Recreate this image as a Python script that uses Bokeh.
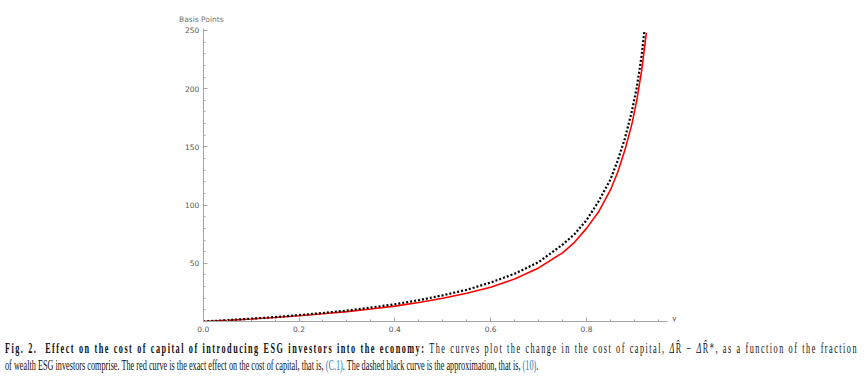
from bokeh.plotting import figure
from bokeh.models import FixedTicker, Label, Div, Range1d, NumeralTickFormatter
from bokeh.layouts import column
from bokeh.embed import file_html
from bokeh.resources import INLINE

# --- data ---
gamma_exact = [0.0, 0.05, 0.10, 0.15, 0.20, 0.25, 0.30, 0.35, 0.40, 0.45, 0.50, 0.55,
               0.60, 0.65, 0.70, 0.75, 0.775, 0.80, 0.825, 0.85, 0.865, 0.88, 0.895,
               0.905, 0.915, 0.925]
bp_exact = [0.0, 1.0, 2.2, 3.5, 5.0, 6.6, 8.5, 10.7, 13.2, 16.3, 20.0, 24.3,
            29.5, 36.5, 46.0, 59.0, 68.0, 80.0, 94.0, 113.0, 128.0, 147.0, 170.0,
            190.0, 215.0, 248.0]

gamma_approx = [0.0, 0.05, 0.10, 0.15, 0.20, 0.25, 0.30, 0.35, 0.40, 0.45, 0.50, 0.55,
                0.60, 0.65, 0.70, 0.75, 0.775, 0.80, 0.825, 0.85, 0.865, 0.88, 0.895,
                0.905, 0.915, 0.921]
bp_approx = [0.0, 1.1, 2.4, 3.8, 5.5, 7.3, 9.4, 12.0, 14.8, 18.3, 22.5, 27.2,
             33.5, 41.0, 51.0, 66.0, 75.0, 87.0, 103.0, 122.0, 138.0, 157.0, 181.0,
             201.0, 228.0, 250.0]

x_major = [0.0, 0.2, 0.4, 0.6, 0.8]
x_minor = [0.05, 0.1, 0.15, 0.25, 0.3, 0.35, 0.45, 0.5, 0.55, 0.65, 0.7, 0.75, 0.85, 0.9, 0.95]
y_major = [50, 100, 150, 200, 250]
y_minor = [10, 20, 30, 40, 60, 70, 80, 90, 110, 120, 130, 140, 160, 170, 180, 190,
           210, 220, 230, 240]

y_title = "Basis Points"
x_title = "γ"

AXIS = "#a6a6a6"
LAB = "#555555"

p = figure(width=865, height=338, output_backend="svg", toolbar_location=None,
           x_range=Range1d(-0.062, 0.99), y_range=Range1d(0, 263.7),
           min_border_left=173, min_border_right=188, min_border_top=14,
           min_border_bottom=17)
p.outline_line_color = None
p.xgrid.visible = False
p.ygrid.visible = False
p.background_fill_color = "white"
p.border_fill_color = "white"

p.line(gamma_exact, bp_exact, line_color="#ff0000", line_width=1.6)
p.line(gamma_approx, bp_approx, line_color="#000000", line_width=2.2, line_dash="2 2")

for ax in (p.xaxis[0], p.yaxis[0]):
    ax.axis_line_color = AXIS
    ax.major_tick_line_color = AXIS
    ax.minor_tick_line_color = AXIS
    ax.major_tick_in = 4
    ax.major_tick_out = 0
    ax.minor_tick_in = 2
    ax.minor_tick_out = 0
    ax.major_label_text_color = LAB
    ax.major_label_text_font = "DejaVu Sans"
    ax.major_label_text_font_size = "7.5px"

p.xaxis.ticker = FixedTicker(ticks=x_major, minor_ticks=x_minor)
p.yaxis.ticker = FixedTicker(ticks=y_major, minor_ticks=y_minor)
p.xaxis.formatter = NumeralTickFormatter(format="0.0")
p.xaxis.major_label_standoff = 4
p.yaxis.major_label_standoff = 4
p.xaxis.bounds = (0, 0.97)
p.yaxis.bounds = (0, 251.7)
p.yaxis.fixed_location = 0

p.add_layout(Label(x=-0.004, y=259.5, text=y_title,
                   text_align="center", text_baseline="middle",
                   text_font="DejaVu Sans", text_font_size="7.5px", text_color="#777777"))
p.add_layout(Label(x=0.983, y=2.5, text=x_title,
                   text_align="center", text_baseline="middle",
                   text_font="DejaVu Sans", text_font_size="7.5px", text_color=LAB))

S = 0.588
caption_html = (
    f'<div style="width:{853 / S:.1f}px;transform:scaleX({S});transform-origin:0 0;'
    'font-family:\'Liberation Serif\';font-size:14px;line-height:17px;color:#111;">'
    '<div style="text-align:justify;text-align-last:justify;letter-spacing:2.5px;">'
    '<b>Fig. 2.&nbsp; Effect on the cost of capital of introducing ESG investors into the economy:</b> '
    'The curves plot the change in the cost of capital, <i>Δ</i>R&#770; &minus; <i>Δ</i>R&#770;*, '
    'as a function of the fraction</div>'
    '<div>of wealth ESG investors comprise. The red curve is the exact effect on the cost of capital, '
    'that is, <span style="color:#2a7ab8;">(C.1)</span>. The dashed black curve is the approximation, '
    'that is, <span style="color:#2a7ab8;">(10)</span>.</div></div>'
)
cap = Div(text=caption_html, width=865, height=38, margin=(2, 0, 0, 5))

layout = column(p, cap, spacing=0)
open("out.html", "w").write(file_html(layout, INLINE))
